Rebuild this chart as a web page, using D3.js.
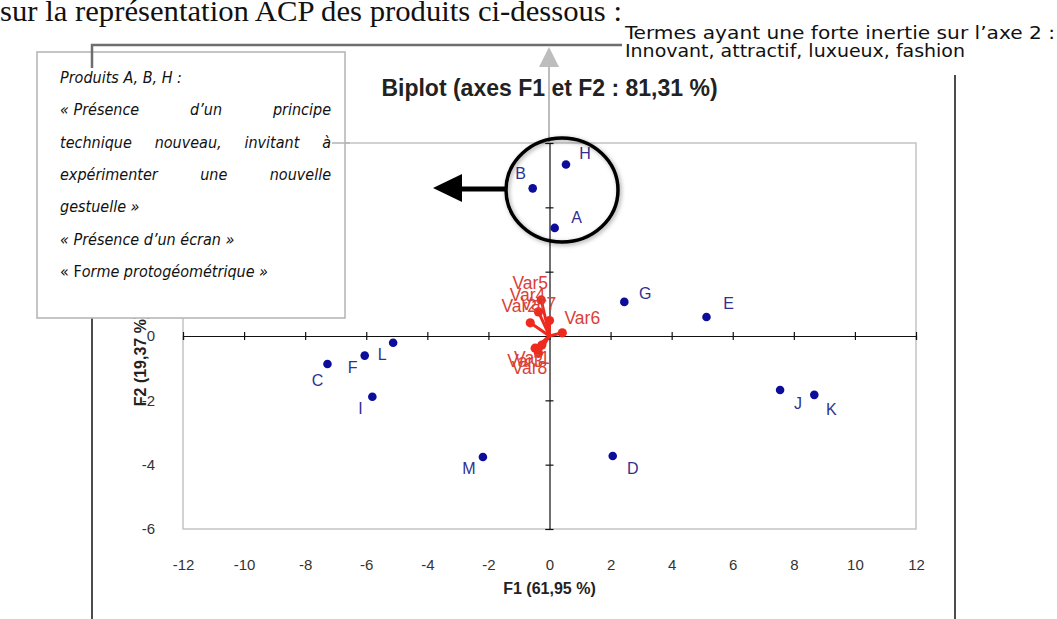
<!DOCTYPE html>
<html><head><meta charset="utf-8">
<script src="https://cdn.jsdelivr.net/npm/d3@7"></script>
<style>
html,body{margin:0;padding:0;background:#fff;overflow:hidden}
svg{display:block}
</style></head><body>
<svg id="chart" width="1057" height="619"></svg>
<script>
// Products projected on the first two principal axes
const obsNames = ["A","B","C","D","E","F","G","H","I","J","K","L","M"];
const obsF1 = [0.17,-0.55,-7.27,2.07,5.14,-6.05,2.45,0.54,-5.80,7.55,8.67,-5.12,-2.18];
const obsF2 = [3.36,4.59,-0.87,-3.73,0.59,-0.61,1.06,5.33,-1.89,-1.68,-1.83,-0.21,-3.76];

// Variable loadings (drawn as vectors from the origin)
const varNames = ["Var1","Var2","Var3","Var4","Var5","Var6","Var7","Var8"];
const varF1 = [-0.25,-0.63,-0.47,-0.36,-0.27,0.42,0.0,-0.36];
const varF2 = [-0.28,0.41,-0.38,0.75,1.12,0.10,0.48,-0.54];

const xTicks = [-12,-10,-8,-6,-4,-2,0,2,4,6,8,10,12];
const yTicks = [-6,-4,-2,0,2,4,6];

const chartTitle = "Biplot (axes F1 et F2 : 81,31 %)";
const xTitle = "F1 (61,95 %)";
const yTitle = "F2 (19,37 %)";

const headLine = "sur la représentation ACP des produits ci-dessous :";
const noteLines = ["Termes  ayant une forte inertie sur l’axe 2 :", "Innovant, attractif, luxueux, fashion"];
const boxLines = [
  {text: "Produits A, B, H :", justify: false},
  {text: "«\u00a0Présence d’un principe", justify: true},
  {text: "technique nouveau, invitant à", justify: true},
  {text: "expérimenter une nouvelle", justify: true},
  {text: "gestuelle »", justify: false},
  {text: "« Présence d’un écran »", justify: false},
  {text: "« Forme protogéométrique »", justify: false, upright: 3}
];

const svg = d3.select("#chart");
const sans = "'Liberation Sans', Arial, sans-serif";
const narrow = "'DejaVu Sans Condensed', 'DejaVu Sans', sans-serif";

// ---- plot area
const P = {left: 183, right: 916, top: 143, bottom: 529};
const x = d3.scaleLinear().domain([-12, 12]).range([P.left, P.right]);
const y = d3.scaleLinear().domain([-6, 6]).range([P.bottom, P.top]);

svg.append("rect")
  .attr("x", P.left).attr("y", P.top)
  .attr("width", P.right - P.left).attr("height", P.bottom - P.top)
  .attr("fill", "none").attr("stroke", "#c4c4c4").attr("stroke-width", 1.5);

// axes through the origin, ticks crossing the line
const gx0 = svg.append("g").attr("transform", `translate(0,${y(0)})`)
  .call(d3.axisBottom(x).tickValues(xTicks).tickSize(4).tickFormat(""));
const gy0 = svg.append("g").attr("transform", `translate(${x(0)},0)`)
  .call(d3.axisLeft(y).tickValues(yTicks).tickSize(4).tickFormat(""));
gx0.selectAll(".tick line").attr("y1", -4).attr("y2", 4);
gy0.selectAll(".tick line").attr("x1", -4).attr("x2", 4);
[gx0, gy0].forEach(g => {
  g.select(".domain").attr("stroke", "#111").attr("stroke-width", 1.2);
  g.selectAll(".tick line").attr("stroke", "#111").attr("stroke-width", 1.2);
});

// tick labels on the frame (plain hyphen for negatives)
const fmt = d => String(d);
const gxl = svg.append("g").attr("transform", `translate(0,${P.bottom})`)
  .call(d3.axisBottom(x).tickValues(xTicks).tickSize(0).tickPadding(30).tickFormat(fmt));
const gyl = svg.append("g").attr("transform", `translate(${P.left},0)`)
  .call(d3.axisLeft(y).tickValues(yTicks).tickSize(0).tickPadding(28).tickFormat(fmt));
[gxl, gyl].forEach(g => {
  g.select(".domain").remove();
  g.selectAll("text").attr("font-family", sans).attr("font-size", 15).attr("fill", "#333");
});

svg.append("text").attr("x", x(0)).attr("y", 594).attr("text-anchor", "middle")
  .attr("font-family", sans).attr("font-weight", "bold").attr("font-size", 16).attr("fill", "#222")
  .text(xTitle);
svg.append("text").attr("transform", `translate(146,360) rotate(-90)`).attr("text-anchor", "middle")
  .attr("font-family", sans).attr("font-weight", "bold").attr("font-size", 16).attr("fill", "#222")
  .text(yTitle);
svg.append("text").attr("x", x(0)).attr("y", 96).attr("text-anchor", "middle")
  .attr("font-family", sans).attr("font-weight", "bold").attr("font-size", 23).attr("fill", "#222")
  .text(chartTitle);

// ---- variable vectors
const vars = varNames.map((n, i) => ({name: n, f1: varF1[i], f2: varF2[i]}));
const varLabelShift = {Var6: [20, -15], Var1: [-10, 13], Var3: [-10, 13], Var8: [-9, 15]};
const gv = svg.append("g");
gv.selectAll("line").data(vars).join("line")
  .attr("x1", x(0)).attr("y1", y(0))
  .attr("x2", d => x(d.f1)).attr("y2", d => y(d.f2))
  .attr("stroke", "#ee2a1e").attr("stroke-width", 3).attr("stroke-linecap", "round");
gv.selectAll("circle").data(vars).join("circle")
  .attr("cx", d => x(d.f1)).attr("cy", d => y(d.f2)).attr("r", 4.6)
  .attr("fill", "#ee2a1e");
gv.selectAll("text").data(vars).join("text")
  .attr("x", d => x(d.f1) + (varLabelShift[d.name] || [-11, -17])[0])
  .attr("y", d => y(d.f2) + (varLabelShift[d.name] || [-11, -17])[1])
  .attr("text-anchor", "middle").attr("dy", "0.35em")
  .attr("font-family", sans).attr("font-size", 17.5).attr("fill", "#db4035")
  .text(d => d.name);

// ---- products
const obs = obsNames.map((n, i) => ({name: n, f1: obsF1[i], f2: obsF2[i]}));
const obsLabelShift = {
  A: [22, -11], B: [-12, -15], C: [-10, 16], D: [20, 12], E: [22, -14], F: [-12, 12],
  G: [21, -9], H: [19, -11], I: [-12, 12], J: [18, 13], K: [17, 15], L: [-11, 12], M: [-14, 11]
};
const go = svg.append("g");
go.selectAll("circle").data(obs).join("circle")
  .attr("cx", d => x(d.f1)).attr("cy", d => y(d.f2)).attr("r", 4.3)
  .attr("fill", "#0d0d9c");
go.selectAll("text").data(obs).join("text")
  .attr("x", d => x(d.f1) + obsLabelShift[d.name][0])
  .attr("y", d => y(d.f2) + obsLabelShift[d.name][1])
  .attr("text-anchor", "middle").attr("dy", "0.35em")
  .attr("font-family", sans).attr("font-size", 16).attr("fill", "#2f3190")
  .text(d => d.name);

// ---- annotations
const defs = svg.append("defs");
const sh = defs.append("filter").attr("id", "soft").attr("x", "-20%").attr("y", "-20%")
  .attr("width", "140%").attr("height", "140%");
sh.append("feDropShadow").attr("dx", 1.5).attr("dy", 1.5).attr("stdDeviation", 2)
  .attr("flood-color", "#000").attr("flood-opacity", 0.35);

// page rules
svg.append("line").attr("x1", 92).attr("x2", 92).attr("y1", 60).attr("y2", 619)
  .attr("stroke", "#111").attr("stroke-width", 1.5);
svg.append("line").attr("x1", 955).attr("x2", 955).attr("y1", 75).attr("y2", 619)
  .attr("stroke", "#111").attr("stroke-width", 1.5);

// upward arrow along the F2 axis
svg.append("line").attr("x1", 549).attr("x2", 549).attr("y1", P.top).attr("y2", 64)
  .attr("stroke", "#bdbdbd").attr("stroke-width", 2);
svg.append("path").attr("d", "M549,47 L559,67 L539,67 Z").attr("fill", "#bdbdbd");

// text box
svg.append("rect").attr("x", 37).attr("y", 52).attr("width", 308).attr("height", 266)
  .attr("fill", "#fff").attr("stroke", "#b3b3b3").attr("stroke-width", 1.5);

// connector from the box to the note on axis 2
svg.append("path").attr("d", "M92,68 L92,45 L622,45").attr("fill", "none")
  .attr("stroke", "#6e6e6e").attr("stroke-width", 2.5);
svg.append("line").attr("x1", 332).attr("x2", 350).attr("y1", P.top).attr("y2", P.top)
  .attr("stroke", "#b3b3b3").attr("stroke-width", 1.5);

// box text, justified where the paragraph wraps
const tx0 = 60, tx1 = 331, lineY0 = 83, lineStep = 32.3;
boxLines.forEach((ln, i) => {
  const by = lineY0 + i * lineStep;
  if (ln.justify) {
    const words = ln.text.split(" ");
    const ts = words.map(w => svg.append("text").attr("y", by)
      .attr("font-family", narrow).attr("font-style", "italic").attr("font-size", 16)
      .attr("fill", "#111").text(w));
    const widths = ts.map(t => t.node().getComputedTextLength());
    const gap = (tx1 - tx0 - d3.sum(widths)) / (words.length - 1);
    let cx = tx0;
    ts.forEach((t, k) => { t.attr("x", cx); cx += widths[k] + gap; });
  } else {
    const t = svg.append("text").attr("x", tx0).attr("y", by)
      .attr("font-family", narrow).attr("font-size", 16).attr("fill", "#111");
    if (ln.upright) {
      t.append("tspan").text(ln.text.slice(0, ln.upright));
      t.append("tspan").attr("font-style", "italic").text(ln.text.slice(ln.upright));
    } else {
      t.attr("font-style", "italic").text(ln.text);
    }
  }
});

// highlighted group A, B, H
svg.append("ellipse").attr("cx", 562).attr("cy", 190).attr("rx", 56).attr("ry", 52)
  .attr("fill", "none").attr("stroke", "#000").attr("stroke-width", 3.5)
  .attr("filter", "url(#soft)");
svg.append("line").attr("x1", 506).attr("x2", 455).attr("y1", 189).attr("y2", 189)
  .attr("stroke", "#000").attr("stroke-width", 5);
svg.append("path").attr("d", "M433,188 L462,174 L462,202 Z").attr("fill", "#000");

// heading and note text
svg.append("text").attr("x", 0).attr("y", 21)
  .attr("font-family", "'Liberation Serif', 'DejaVu Serif', serif").attr("font-size", 29)
  .attr("fill", "#111").attr("textLength", 622).attr("lengthAdjust", "spacingAndGlyphs")
  .text(headLine);
const noteWidths = [430, 340];
noteLines.forEach((s, i) => {
  svg.append("text").attr("x", 625).attr("y", 39 + i * 18)
    .attr("font-family", narrow).attr("font-size", 17.5).attr("fill", "#111")
    .attr("textLength", noteWidths[i]).attr("lengthAdjust", "spacingAndGlyphs")
    .text(s);
});
</script>
</body></html>
